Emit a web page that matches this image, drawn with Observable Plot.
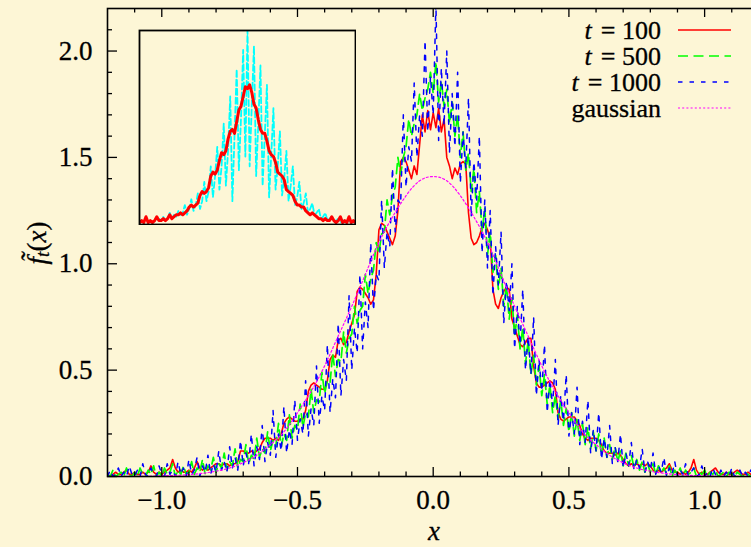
<!DOCTYPE html>
<html>
<head>
<meta charset="utf-8">
<script src="https://cdn.jsdelivr.net/npm/d3@7"></script>
<script src="https://cdn.jsdelivr.net/npm/@observablehq/plot@0.6"></script>
<style>
  html, body { margin: 0; padding: 0; background: #fdf6d6; }
  #wrap { position: relative; width: 751px; height: 547px; overflow: hidden; background: #fdf6d6; }
  #wrap svg { position: absolute; }
  #wrap svg, #wrap svg text, #wrap svg tspan { font-family: "Liberation Serif", "Times New Roman", Times, serif !important; }
  #wrap svg text { stroke: black; stroke-width: 0.3px; }
</style>
</head>
<body>
<div id="wrap"></div>
<script>
// ---------- data ----------
// main panel: samples from x = -1.20 to 1.20, step 0.01
const xStart = -1.2, xStep = 0.01;

const red = [
 0.01,0.00,0.01,0.02,0.01,0.01,0.02,0.03,0.01,0.01,
 0.02,0.01,0.01,0.02,0.01,0.02,0.05,0.02,0.01,0.02,
 0.01,0.02,0.03,0.04,0.08,0.04,0.02,0.03,0.02,0.02,
 0.03,0.02,0.04,0.07,0.04,0.03,0.04,0.03,0.04,0.05,
 0.06,0.06,0.05,0.06,0.06,0.05,0.06,0.06,0.07,0.12,
 0.12,0.11,0.11,0.12,0.11,0.12,0.13,0.16,0.18,0.18,
 0.18,0.17,0.18,0.17,0.20,0.25,0.27,0.28,0.27,0.26,
 0.26,0.27,0.27,0.31,0.40,0.43,0.44,0.43,0.42,0.41,
 0.41,0.45,0.55,0.57,0.56,0.64,0.65,0.62,0.63,0.68,
 0.72,0.76,0.87,0.89,0.88,0.86,0.84,0.81,0.83,0.95,
 1.16,1.19,1.18,1.15,1.12,1.09,1.13,1.25,1.48,1.50,
 1.48,1.44,1.40,1.46,1.42,1.56,1.70,1.62,1.72,1.63,
 1.71,1.64,1.73,1.62,1.68,1.50,1.46,1.40,1.45,1.42,
 1.47,1.48,1.47,1.24,1.12,1.09,1.10,1.13,1.17,1.19,
 1.16,1.12,0.88,0.81,0.79,0.84,0.87,0.89,0.88,0.74,
 0.70,0.66,0.62,0.61,0.63,0.65,0.65,0.52,0.44,0.42,
 0.42,0.43,0.44,0.45,0.44,0.41,0.30,0.27,0.26,0.27,
 0.28,0.28,0.28,0.26,0.24,0.20,0.18,0.17,0.18,0.18,
 0.18,0.17,0.15,0.12,0.11,0.11,0.11,0.10,0.11,0.10,
 0.08,0.06,0.05,0.06,0.05,0.06,0.05,0.06,0.05,0.06,
 0.05,0.03,0.02,0.03,0.02,0.03,0.04,0.06,0.03,0.02,
 0.02,0.01,0.02,0.01,0.02,0.04,0.08,0.03,0.01,0.02,
 0.01,0.01,0.02,0.03,0.04,0.02,0.01,0.01,0.02,0.01,
 0.01,0.02,0.03,0.02,0.01,0.01,0.02,0.01,0.00,0.01,
 0.01
];

const green = [
 0.01,0.00,0.03,0.00,0.01,0.02,0.00,0.04,0.01,0.00,
 0.02,0.00,0.04,0.01,0.00,0.03,0.01,0.05,0.00,0.02,
 0.00,0.04,0.01,0.02,0.06,0.00,0.03,0.01,0.05,0.01,
 0.02,0.07,0.01,0.04,0.02,0.08,0.01,0.05,0.03,0.09,
 0.02,0.06,0.04,0.11,0.03,0.07,0.05,0.13,0.04,0.08,
 0.07,0.15,0.06,0.10,0.08,0.18,0.09,0.13,0.11,0.21,
 0.12,0.17,0.14,0.25,0.14,0.20,0.17,0.29,0.18,0.24,
 0.22,0.34,0.23,0.30,0.28,0.41,0.30,0.36,0.35,0.49,
 0.39,0.45,0.44,0.58,0.47,0.55,0.54,0.68,0.58,0.65,
 0.67,0.80,0.72,0.78,0.80,0.95,0.86,0.93,0.97,1.10,
 1.05,1.14,1.15,1.30,1.23,1.32,1.36,1.50,1.42,1.50,
 1.55,1.68,1.60,1.66,1.70,1.80,1.72,1.78,1.82,1.90,
 1.80,1.95,1.76,1.86,1.74,1.82,1.66,1.76,1.60,1.70,
 1.50,1.62,1.44,1.52,1.34,1.45,1.24,1.34,1.15,1.26,
 1.04,1.15,0.96,1.04,0.88,0.98,0.80,0.90,0.74,0.84,
 0.66,0.76,0.60,0.70,0.53,0.64,0.48,0.57,0.43,0.52,
 0.38,0.48,0.34,0.43,0.30,0.38,0.27,0.36,0.24,0.32,
 0.21,0.30,0.19,0.27,0.17,0.25,0.15,0.23,0.13,0.21,
 0.12,0.20,0.10,0.18,0.09,0.15,0.08,0.14,0.07,0.12,
 0.05,0.11,0.05,0.10,0.04,0.08,0.03,0.07,0.02,0.06,
 0.02,0.06,0.01,0.05,0.02,0.04,0.01,0.05,0.00,0.03,
 0.01,0.04,0.00,0.03,0.01,0.02,0.04,0.00,0.02,0.01,
 0.03,0.00,0.02,0.01,0.03,0.00,0.01,0.02,0.00,0.02,
 0.01,0.00,0.02,0.01,0.00,0.02,0.01,0.00,0.01,0.02,
 0.00
];

const blue = [
 0.00,0.03,0.00,0.01,0.04,0.00,0.02,0.00,0.05,0.01,
 0.00,0.03,0.00,0.06,0.01,0.00,0.04,0.01,0.00,0.05,
 0.01,0.00,0.06,0.01,0.03,0.00,0.07,0.01,0.04,0.00,
 0.08,0.01,0.03,0.09,0.00,0.05,0.02,0.10,0.01,0.06,
 0.02,0.12,0.03,0.07,0.02,0.14,0.04,0.09,0.03,0.17,
 0.05,0.11,0.06,0.20,0.05,0.14,0.08,0.24,0.07,0.16,
 0.10,0.31,0.09,0.20,0.12,0.33,0.11,0.22,0.15,0.36,
 0.17,0.27,0.20,0.45,0.19,0.32,0.24,0.52,0.25,0.38,
 0.31,0.62,0.30,0.46,0.37,0.72,0.38,0.55,0.45,0.85,
 0.50,0.70,0.58,0.95,0.60,0.82,0.70,1.10,0.78,0.95,
 0.92,1.30,0.98,1.15,1.08,1.45,1.15,1.30,1.28,1.70,
 1.36,1.55,1.48,1.85,1.50,1.70,1.60,2.05,1.62,1.88,
 1.70,2.22,1.58,1.92,1.65,2.00,1.52,1.80,1.55,1.90,
 1.38,1.62,1.45,1.78,1.22,1.48,1.30,1.60,1.05,1.30,
 0.98,1.25,0.85,1.08,0.90,1.15,0.72,0.92,0.78,1.00,
 0.60,0.80,0.62,0.88,0.50,0.66,0.48,0.75,0.38,0.55,
 0.40,0.62,0.30,0.46,0.33,0.55,0.24,0.38,0.26,0.48,
 0.19,0.30,0.20,0.42,0.15,0.26,0.16,0.36,0.11,0.22,
 0.12,0.30,0.08,0.18,0.09,0.24,0.06,0.14,0.07,0.20,
 0.04,0.11,0.05,0.16,0.03,0.08,0.04,0.13,0.02,0.07,
 0.03,0.11,0.01,0.05,0.02,0.09,0.00,0.04,0.01,0.07,
 0.00,0.03,0.01,0.06,0.00,0.02,0.04,0.00,0.01,0.05,
 0.00,0.02,0.00,0.04,0.01,0.00,0.03,0.00,0.02,0.00,
 0.04,0.00,0.01,0.03,0.00,0.02,0.00,0.03,0.01,0.00,
 0.02
];

// gaussian: x = -1.20 .. 1.20, step 0.05
const gStart = -1.2, gStep = 0.05;
const gaussian = [
 0.000,0.000,0.001,0.001,0.003,0.005,0.009,0.015,0.025,0.040,
 0.065,0.100,0.150,0.210,0.300,0.400,0.520,0.660,0.800,0.950,
 1.100,1.220,1.320,1.390,1.410,1.390,1.320,1.220,1.100,0.950,
 0.800,0.660,0.520,0.400,0.300,0.210,0.150,0.100,0.065,0.040,
 0.025,0.015,0.009,0.005,0.003,0.001,0.001,0.000,0.000
];

// inset: x = -1.00 .. 1.00, step 0.02 (inset units, no axes)
const iStart = -1, iStep = 0.02;
const insetRed = [
 0.01,0.02,0.01,0.04,0.01,0.02,0.01,0.02,0.04,0.02,
 0.02,0.03,0.02,0.03,0.05,0.03,0.04,0.05,0.05,0.06,
 0.05,0.06,0.07,0.09,0.10,0.09,0.10,0.11,0.15,0.17,
 0.16,0.17,0.19,0.25,0.27,0.26,0.28,0.33,0.37,0.36,
 0.38,0.44,0.48,0.49,0.47,0.53,0.59,0.61,0.66,0.71,
 0.70,
 0.72,0.68,0.62,0.60,0.54,0.49,0.47,0.47,0.43,0.38,
 0.36,0.35,0.32,0.27,0.26,0.25,0.23,0.18,0.17,0.16,
 0.15,0.12,0.10,0.10,0.09,0.09,0.07,0.06,0.05,0.06,
 0.05,0.04,0.03,0.03,0.02,0.03,0.02,0.02,0.04,0.02,
 0.01,0.02,0.04,0.01,0.02,0.01,0.04,0.01,0.02,0.01
];
const insetCyan = [
 0.01,0.02,0.01,0.03,0.01,0.02,0.01,0.02,0.02,0.03,
 0.02,0.04,0.02,0.03,0.06,0.03,0.05,0.04,0.07,0.05,
 0.06,0.10,0.05,0.08,0.13,0.07,0.10,0.16,0.08,0.12,
 0.22,0.12,0.17,0.30,0.14,0.25,0.40,0.18,0.30,0.52,
 0.20,0.38,0.66,0.12,0.46,0.80,0.28,0.55,0.90,0.35,
 1.00,
 0.30,0.62,0.92,0.25,0.52,0.82,0.20,0.46,0.72,0.14,
 0.36,0.60,0.18,0.30,0.48,0.15,0.24,0.38,0.12,0.20,
 0.30,0.10,0.14,0.22,0.08,0.11,0.16,0.06,0.08,0.11,
 0.05,0.06,0.08,0.03,0.04,0.06,0.02,0.03,0.04,0.02,
 0.02,0.03,0.01,0.02,0.02,0.01,0.02,0.01,0.02,0.01
];

// ticks
const xMajor = [-1, -0.5, 0, 0.5, 1];
const xMinor = [-1.1,-0.9,-0.8,-0.7,-0.6,-0.4,-0.3,-0.2,-0.1,0.1,0.2,0.3,0.4,0.6,0.7,0.8,0.9,1.1];
const yMajor = [0, 0.5, 1, 1.5, 2];
const yMinor = [0.1,0.2,0.3,0.4,0.6,0.7,0.8,0.9,1.1,1.2,1.3,1.4,1.6,1.7,1.8,1.9,2.1];

// legend
const seriesVar = ["t", "t", "t", null];
const seriesText = ["= 100", "= 500", "= 1000", "gaussian"];
const seriesColors = ["#ff0000", "#00ff00", "#0000ff", "#ff00ff"];
const seriesDash = [null, "10,5.5", "4.5,7", "2,2.2"];
const seriesWidth = [1.6, 1.7, 1.5, 1.2];

// ---------- build ----------
const mainRows = red.map((r, i) => ({x: +(xStart + i * xStep).toFixed(2), red: r, green: green[i], blue: blue[i]}));
const gRows = gaussian.map((g, i) => ({x: +(gStart + i * gStep).toFixed(2), y: g}));
const iRows = insetRed.map((r, i) => ({x: +(iStart + i * iStep).toFixed(2), red: r, cyan: insetCyan[i]}));

const W = 751, H = 547;
const mL = 107, mT = 8, mB = 71, mR = -7.4;
const frameW = W - mR - mL, frameH = H - mB - mT;
const FONT = "Liberation Serif, Times New Roman, serif";
const fmt = d3.format(".1f");

const main = Plot.plot({
  width: W, height: H,
  marginLeft: mL, marginTop: mT, marginBottom: mB, marginRight: mR,
  x: {domain: [-1.2, 1.2], range: [mL, W - mR]},
  y: {domain: [0, 2.2], range: [H - mB, mT]},
  style: {background: "transparent", fontFamily: FONT, fontSize: "27px", color: "black"},
  marks: [
    Plot.line(mainRows, {x: "x", y: "red", stroke: seriesColors[0], strokeWidth: seriesWidth[0], clip: true}),
    Plot.line(mainRows, {x: "x", y: "green", stroke: seriesColors[1], strokeWidth: seriesWidth[1], strokeDasharray: seriesDash[1], clip: true}),
    Plot.line(mainRows, {x: "x", y: "blue", stroke: seriesColors[2], strokeWidth: seriesWidth[2], strokeDasharray: seriesDash[2], clip: true}),
    Plot.line(gRows, {x: "x", y: "y", stroke: seriesColors[3], strokeWidth: seriesWidth[3], strokeDasharray: seriesDash[3], curve: "natural", clip: true}),
    // inward ticks: bottom, top, left
    Plot.tickX(xMajor, {x: d => d, insetTop: frameH - 9, strokeWidth: 1.3}),
    Plot.tickX(xMinor, {x: d => d, insetTop: frameH - 4.5, strokeWidth: 1.3}),
    Plot.tickX(xMajor, {x: d => d, insetBottom: frameH - 9, strokeWidth: 1.3}),
    Plot.tickX(xMinor, {x: d => d, insetBottom: frameH - 4.5, strokeWidth: 1.3}),
    Plot.tickY(yMajor, {y: d => d, insetRight: frameW - 10, strokeWidth: 1.3}),
    Plot.tickY(yMinor, {y: d => d, insetRight: frameW - 5, strokeWidth: 1.3}),
    Plot.axisX({ticks: xMajor, tickSize: 0, tickPadding: 13, tickFormat: fmt, label: null}),
    Plot.axisY({ticks: yMajor, tickSize: 0, tickPadding: 15, tickFormat: fmt, label: null}),
    Plot.frame({stroke: "black", strokeWidth: 1.6})
  ]
});
main.style.left = "0px"; main.style.top = "0px";

const inset = Plot.plot({
  width: 218, height: 196, margin: 1,
  x: {domain: [-1, 1], axis: null},
  y: {domain: [0, 1], axis: null},
  style: {background: "#fdf6d6"},
  marks: [
    Plot.line(iRows, {x: "x", y: "cyan", stroke: "#00ffff", strokeWidth: 1.8, strokeDasharray: "6,3", clip: true}),
    Plot.line(iRows, {x: "x", y: "red", stroke: "#ff0000", strokeWidth: 3, clip: true}),
    Plot.frame({stroke: "black", strokeWidth: 1.8})
  ]
});
inset.style.left = "138px"; inset.style.top = "29px";

const wrap = document.getElementById("wrap");
wrap.appendChild(main);
wrap.appendChild(inset);

// overlay: axis titles and key
const ov = d3.create("svg").attr("width", W).attr("height", H)
  .style("left", "0px").style("top", "0px")
  .attr("font-family", FONT).attr("font-size", 27);
wrap.appendChild(ov.node());

const yl = ov.append("text")
  .attr("transform", "translate(37,243) rotate(-90)")
  .attr("text-anchor", "middle").attr("dominant-baseline", "central");
yl.append("tspan").attr("font-style", "italic").text("f\u0303");
yl.append("tspan").attr("font-style", "italic").attr("font-size", 19).attr("dy", 5).text("t");
yl.append("tspan").attr("dy", -5).text("(");
yl.append("tspan").attr("font-style", "italic").text("x");
yl.append("tspan").text(")");

ov.append("text").attr("x", 434).attr("y", 540)
  .attr("text-anchor", "middle")
  .attr("font-style", "italic").text("x");

const rowY = [30, 56, 82, 108];
seriesText.forEach((txt, i) => {
  const t = ov.append("text").attr("x", 661).attr("y", rowY[i]).attr("font-size", 26)
    .attr("text-anchor", "end").attr("dominant-baseline", "central").text(txt);
  if (seriesVar[i]) {
    const w = t.node().getComputedTextLength();
    ov.append("text").attr("x", 661 - w - 9).attr("y", rowY[i]).attr("font-size", 26)
      .attr("text-anchor", "end").attr("dominant-baseline", "central")
      .attr("font-style", "italic").text(seriesVar[i]);
  }
  ov.append("line").attr("x1", 678).attr("x2", 731).attr("y1", rowY[i]).attr("y2", rowY[i])
    .attr("stroke", seriesColors[i]).attr("stroke-width", seriesWidth[i])
    .attr("stroke-dasharray", seriesDash[i]);
});
</script>
</body>
</html>
